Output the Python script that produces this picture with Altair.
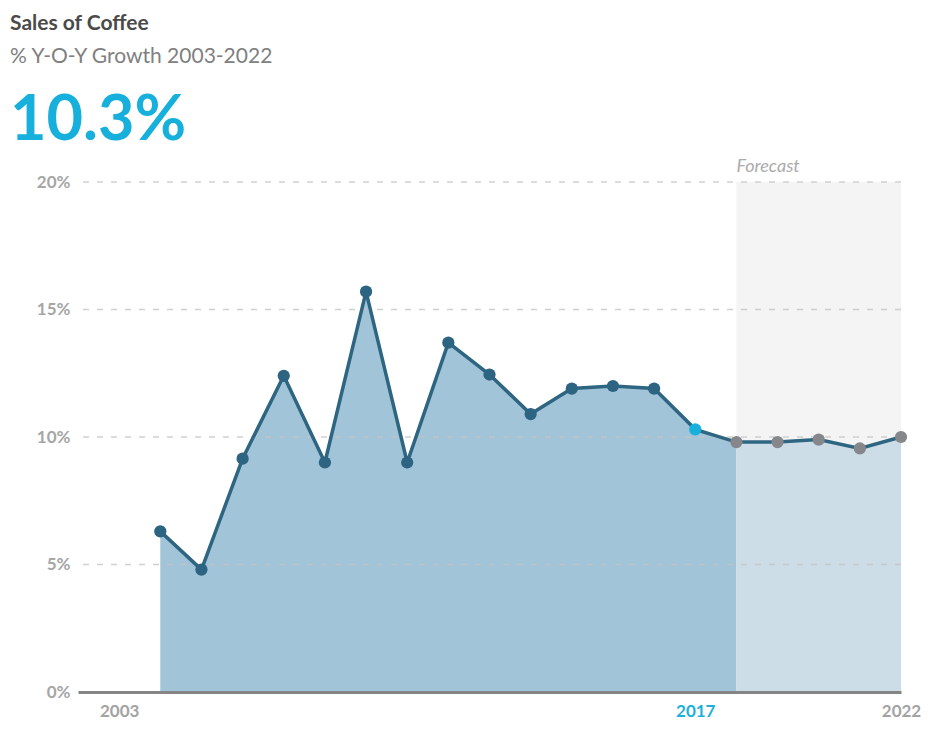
import altair as alt
import pandas as pd

# ---- data ----
years = list(range(2004, 2023))
growth = [6.3, 4.8, 9.15, 12.4, 9.0, 15.7, 9.0, 13.7, 12.45, 10.9,
          11.9, 12.0, 11.9, 10.3, 9.8, 9.8, 9.9, 9.55, 10.0]
current_year = 2017
forecast_start = 2018
forecast_end = 2022
grid_values = [5, 10, 15, 20]
y_tick_values = [0, 5, 10, 15, 20]
x_tick_years = [2003, 2017, 2022]
title_text = "Sales of Coffee"
subtitle_text = "% Y-O-Y Growth 2003-2022"
forecast_label = "Forecast"

df = pd.DataFrame({"year": years, "growth": growth})
df["status"] = ["Forecast" if y >= forecast_start else ("Current" if y == current_year else "Actual")
                for y in years]
actual_df = df[df.year <= forecast_start]
fc_df = df[df.year >= forecast_start]
current_value = growth[years.index(current_year)]

FONT = "Lato"
x_scale = alt.Scale(domain=[2002, 2022], nice=False, zero=False)
y_scale = alt.Scale(domain=[0, 20], nice=False)

x_axis = alt.Axis(values=x_tick_years, format="d", title=None, grid=False, ticks=False,
                  domainColor="#858585", domainWidth=3, labelFont=FONT, labelFontSize=17,
                  labelFontWeight="bold", labelPadding=11, zindex=1, labelFlush=False,
                  labelColor={"condition": {"test": f"datum.value == {current_year}", "value": "#1cb0da"},
                              "value": "#a3a3a3"})
y_axis = alt.Axis(values=y_tick_values, labelExpr="datum.value + '%'", title=None, grid=False,
                  ticks=False, domain=False, labelColor="#a6a6a6", labelFont=FONT, labelFontSize=17,
                  labelFontWeight="bold", labelPadding=8)

bg = alt.Chart(pd.DataFrame({"x": [forecast_start], "x2": [forecast_end], "y": [20], "y2": [0]})).mark_rect(
    color="#f4f4f4").encode(
    x=alt.X("x:Q", scale=x_scale, axis=x_axis), x2="x2:Q",
    y=alt.Y("y:Q", scale=y_scale, axis=y_axis), y2="y2:Q")

area_actual = alt.Chart(actual_df).mark_area(color="#a2c4d8", opacity=1).encode(
    x=alt.X("year:Q", scale=x_scale, axis=x_axis),
    y=alt.Y("growth:Q", scale=y_scale, axis=y_axis))

area_fc = alt.Chart(fc_df).mark_area(color="#cddde7", opacity=1).encode(
    x=alt.X("year:Q", scale=x_scale, axis=x_axis),
    y=alt.Y("growth:Q", scale=y_scale, axis=y_axis))

grid = alt.Chart(pd.DataFrame({"g": grid_values})).mark_rule(
    color="#c4c4c4", strokeDash=[6, 8], strokeWidth=1.3, opacity=0.8).encode(
    y=alt.Y("g:Q", scale=y_scale, axis=y_axis))

line = alt.Chart(df).mark_line(color="#2e6682", strokeWidth=3.5).encode(
    x=alt.X("year:Q", scale=x_scale, axis=x_axis),
    y=alt.Y("growth:Q", scale=y_scale, axis=y_axis))

points = alt.Chart(df).mark_circle(size=150, opacity=1).encode(
    x=alt.X("year:Q", scale=x_scale, axis=x_axis),
    y=alt.Y("growth:Q", scale=y_scale, axis=y_axis),
    color=alt.Color("status:N", legend=None,
                    scale=alt.Scale(domain=["Actual", "Current", "Forecast"],
                                    range=["#2c6482", "#17b0dc", "#86878b"])))

fc_text = alt.Chart(pd.DataFrame({"x": [forecast_start], "y": [20], "t": [forecast_label]})).mark_text(
    align="left", baseline="alphabetic", dy=-10, font=FONT, fontSize=18, fontStyle="italic",
    color="#ababab").encode(
    x=alt.X("x:Q", scale=x_scale, axis=x_axis),
    y=alt.Y("y:Q", scale=y_scale, axis=y_axis), text="t:N")

title_mark = alt.Chart(pd.DataFrame({"t": [title_text]})).mark_text(
    align="left", baseline="alphabetic", font=FONT, fontSize=21, fontWeight="bold", color="#4a4a4a").encode(
    x=alt.value(-68), y=alt.value(-152), text="t:N")

subtitle_mark = alt.Chart(pd.DataFrame({"t": [subtitle_text]})).mark_text(
    align="left", baseline="alphabetic", font=FONT, fontSize=21, color="#808080").encode(
    x=alt.value(-68), y=alt.value(-119), text="t:N")

big_mark = alt.Chart(pd.DataFrame({"t": [f"{current_value}%"]})).mark_text(
    align="left", baseline="alphabetic", font=FONT, fontSize=63, fontWeight="bold", color="#17b0dc").encode(
    x=alt.value(-68), y=alt.value(-42), text="t:N")

chart = alt.layer(bg, area_actual, area_fc, grid, line, points, fc_text,
                  title_mark, subtitle_mark, big_mark).properties(
    width=823, height=510,
    autosize=alt.AutoSizeParams(type="none"),
    padding={"left": 70, "top": 174, "right": 22, "bottom": 29},
).configure(font=FONT).configure_view(stroke=None)

chart.save("out.html", embed_options={"renderer": "svg", "actions": False})
